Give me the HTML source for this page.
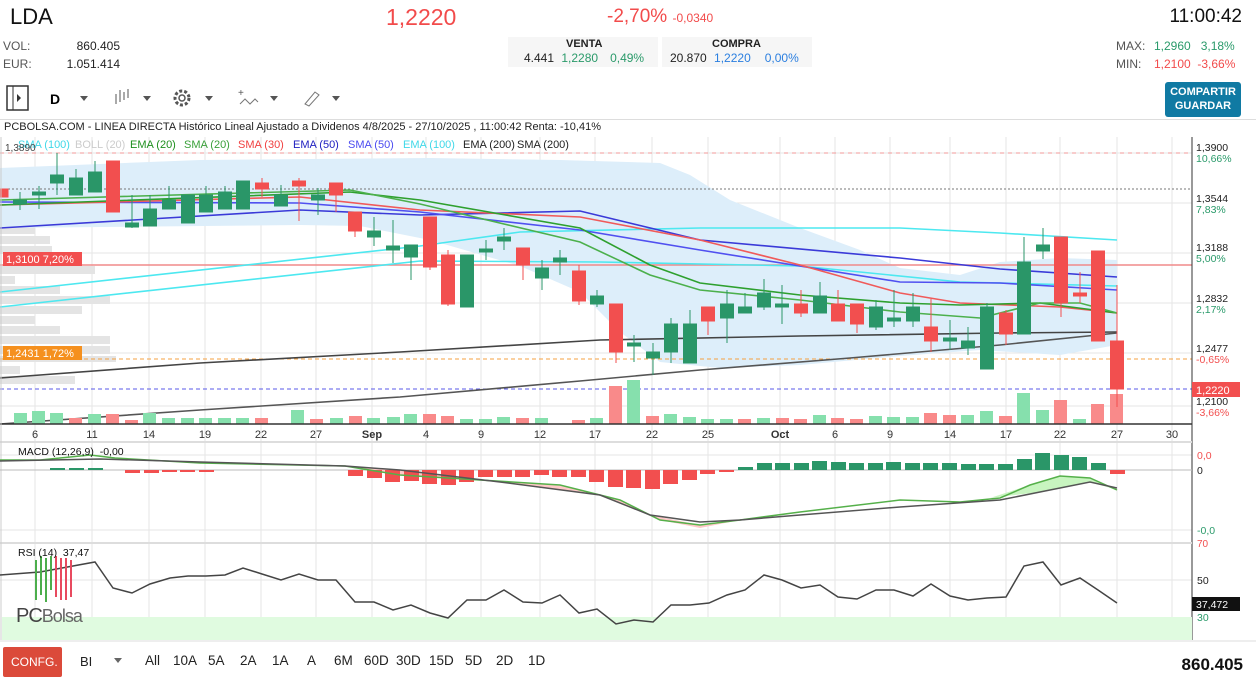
<!DOCTYPE html>
<html><head><meta charset="utf-8">
<style>
body{margin:0;width:1256px;height:683px;overflow:hidden;background:#fff;font-family:"Liberation Sans",sans-serif;position:relative}
.a{position:absolute;white-space:nowrap}
</style></head><body>
<div class="a" style="left:10px;top:4px;font-size:22px;color:#111">LDA</div>
<div class="a" style="left:386px;top:4px;font-size:23px;color:#f24b4b">1,2220</div>
<div class="a" style="left:607px;top:6px;font-size:19px;color:#f24b4b">-2,70% <span style="font-size:12px">-0,0340</span></div>
<div class="a" style="right:14px;top:6px;font-size:19px;color:#111">11:00:42</div>
<div class="a" style="left:3px;top:39px;font-size:12px;color:#555">VOL:</div>
<div class="a" style="left:3px;top:57px;font-size:12px;color:#555">EUR:</div>
<div class="a" style="left:40px;width:80px;text-align:right;top:39px;font-size:12px;color:#222">860.405</div>
<div class="a" style="left:40px;width:80px;text-align:right;top:57px;font-size:12px;color:#222">1.051.414</div>
<div class="a" style="left:508px;top:37px;width:150px;height:30px;background:#f6f6f6"></div>
<div class="a" style="left:662px;top:37px;width:150px;height:30px;background:#f6f6f6"></div>
<div class="a" style="left:566px;top:38px;font-size:11px;font-weight:bold;color:#222">VENTA</div>
<div class="a" style="left:712px;top:38px;font-size:11px;font-weight:bold;color:#222">COMPRA</div>
<div class="a" style="left:524px;top:51px;font-size:12px;color:#222">4.441 <span style="color:#2a9a6a;margin-left:4px">1,2280</span><span style="color:#2a9a6a;margin-left:12px">0,49%</span></div>
<div class="a" style="left:670px;top:51px;font-size:12px;color:#222">20.870 <span style="color:#2b7fe0;margin-left:4px">1,2220</span><span style="color:#2b7fe0;margin-left:14px">0,00%</span></div>
<div class="a" style="left:1116px;top:39px;font-size:12px;color:#555">MAX:</div>
<div class="a" style="left:1116px;top:57px;font-size:12px;color:#555">MIN:</div>
<div class="a" style="left:1154px;top:39px;font-size:12px;color:#2a9a6a">1,2960 &nbsp; 3,18%</div>
<div class="a" style="left:1154px;top:57px;font-size:12px;color:#f24b4b">1,2100 &nbsp;-3,66%</div>
<div class="a" style="left:1165px;top:82px;width:76px;height:35px;background:#107aa3;border-radius:3px;color:#fff;font-size:11px;font-weight:bold;text-align:center;line-height:14px;padding-top:3px;box-sizing:border-box">COMPARTIR<br>GUARDAR</div>
<svg class="a" style="left:0;top:84px" width="360" height="30">
<rect x="7" y="2" width="21" height="24" fill="none" stroke="#333" stroke-width="1.5"/><line x1="13" y1="2" x2="13" y2="26" stroke="#333"/><polygon points="17,10 21,14 17,18" fill="#333"/>
<text x="50" y="20" font-size="14" font-weight="bold" font-family="Liberation Sans">D</text>
<polygon points="80,12 88,12 84,17" fill="#555"/>
<g stroke="#555"><line x1="116" y1="10" x2="116" y2="20"/><line x1="120" y1="6" x2="120" y2="18"/><line x1="124" y1="8" x2="124" y2="16"/><line x1="128" y1="5" x2="128" y2="14"/></g>
<polygon points="143,12 151,12 147,17" fill="#555"/>
<circle cx="182" cy="14" r="7" fill="none" stroke="#555" stroke-width="3" stroke-dasharray="3 2"/><circle cx="182" cy="14" r="3" fill="none" stroke="#555" stroke-width="1.5"/>
<polygon points="205,12 213,12 209,17" fill="#555"/>
<path d="M240 20 L245 15 L250 20 L255 15 L258 18" fill="none" stroke="#777"/><text x="238" y="12" font-size="10" fill="#555">+</text>
<polygon points="270,12 278,12 274,17" fill="#555"/>
<path d="M305 20 L315 8 L319 11 L309 22Z" fill="none" stroke="#777"/>
<polygon points="332,12 340,12 336,17" fill="#555"/>
</svg>
<div class="a" style="left:0;top:119px;width:1256px;height:1px;background:#ddd"></div>
<div class="a" style="left:4px;top:121px;font-size:11px;color:#222">PCBOLSA.COM - LINEA DIRECTA Histórico Lineal Ajustado a Dividenos 4/8/2025 - 27/10/2025 , 11:00:42 Renta: -10,41%</div>

<svg class="a" style="left:0;top:0" width="1256" height="683" font-family="Liberation Sans">
<!-- grid -->
<g stroke="#e6e6e6" stroke-width="1">
<line x1="35" y1="137" x2="35" y2="640"/><line x1="92" y1="137" x2="92" y2="640"/><line x1="149" y1="137" x2="149" y2="640"/><line x1="205" y1="137" x2="205" y2="640"/><line x1="261" y1="137" x2="261" y2="640"/><line x1="316" y1="137" x2="316" y2="640"/><line x1="372" y1="137" x2="372" y2="640"/><line x1="426" y1="137" x2="426" y2="640"/><line x1="481" y1="137" x2="481" y2="640"/><line x1="540" y1="137" x2="540" y2="640"/><line x1="595" y1="137" x2="595" y2="640"/><line x1="652" y1="137" x2="652" y2="640"/><line x1="708" y1="137" x2="708" y2="640"/><line x1="780" y1="137" x2="780" y2="640"/><line x1="835" y1="137" x2="835" y2="640"/><line x1="890" y1="137" x2="890" y2="640"/><line x1="950" y1="137" x2="950" y2="640"/><line x1="1006" y1="137" x2="1006" y2="640"/><line x1="1060" y1="137" x2="1060" y2="640"/><line x1="1117" y1="137" x2="1117" y2="640"/><line x1="1172" y1="137" x2="1172" y2="640"/>
<line x1="0" y1="153" x2="1192" y2="153"/><line x1="0" y1="203" x2="1192" y2="203"/><line x1="0" y1="253" x2="1192" y2="253"/><line x1="0" y1="303" x2="1192" y2="303"/><line x1="0" y1="353" x2="1192" y2="353"/><line x1="0" y1="406" x2="1192" y2="406"/>
<line x1="0" y1="455" x2="1192" y2="455"/><line x1="0" y1="530" x2="1192" y2="530"/><line x1="0" y1="580" x2="1192" y2="580"/>
</g>
<!-- volume profile -->
<g fill="#e4e4e4">
<rect x="0" y="178" width="17" height="8"/><rect x="0" y="186" width="40" height="8"/><rect x="0" y="196" width="60" height="8"/><rect x="0" y="206" width="30" height="8"/><rect x="0" y="216" width="55" height="8"/><rect x="0" y="226" width="35" height="8"/><rect x="0" y="236" width="50" height="8"/><rect x="0" y="246" width="52" height="8"/><rect x="0" y="266" width="95" height="8"/><rect x="0" y="276" width="15" height="8"/><rect x="0" y="286" width="60" height="8"/><rect x="0" y="296" width="110" height="8"/><rect x="0" y="306" width="82" height="8"/><rect x="0" y="316" width="35" height="8"/><rect x="0" y="326" width="60" height="8"/><rect x="0" y="336" width="110" height="8"/><rect x="0" y="346" width="110" height="8"/><rect x="0" y="356" width="116" height="6"/><rect x="0" y="366" width="20" height="8"/><rect x="0" y="376" width="75" height="8"/>
</g>
<!-- boll -->
<path d="M0 168 L200 160 L430 158 L560 160 L660 163 L690 175 L730 200 L800 228 L860 250 L900 268 L960 275 L1000 262 L1060 258 L1117 260 L1117 345 L1060 355 L980 350 L900 356 L800 365 L720 368 L660 362 L620 332 L580 292 L520 266 L430 240 L360 226 L300 225 L0 228Z" fill="#ddeefa"/>
<!-- ref lines -->
<line x1="0" y1="153" x2="1192" y2="153" stroke="#f29a9a" stroke-dasharray="4 4"/>
<line x1="0" y1="189" x2="1192" y2="189" stroke="#777" stroke-dasharray="2 2"/>
<line x1="0" y1="265" x2="1192" y2="265" stroke="#f08a8a" stroke-width="1.5"/>
<line x1="0" y1="359" x2="1192" y2="359" stroke="#f5a040" stroke-dasharray="4 3"/>
<line x1="0" y1="389" x2="1192" y2="389" stroke="#5a5ae8" stroke-dasharray="4 3"/>
<!-- MAs -->
<g fill="none" stroke-width="1.6">
<polyline stroke="#4de8f0" points="0,292 420,246 520,232 700,228 900,228 1000,233 1117,240"/>
<polyline stroke="#4de8f0" points="0,307 420,261 600,262 800,266 960,282 1117,286"/>
<polyline stroke="#3a3ad8" points="0,228 300,210 420,215 580,211 700,240 900,258 1000,269 1117,277"/>
<polyline stroke="#5050f0" points="0,202 300,203 420,212 580,230 700,250 900,282 1000,283 1117,290"/>
<polyline stroke="#f05a5a" points="0,205 300,197 420,210 580,217 700,240 800,265 900,293 960,303 1060,307 1117,313"/>
<polyline stroke="#2ea02e" points="0,205 350,192 420,200 580,228 650,265 700,283 800,295 900,303 960,305 1040,303 1117,313"/>
<polyline stroke="#4cb04c" points="0,200 350,190 420,204 580,242 650,275 700,290 800,300 900,312 980,318 1040,303 1080,303 1117,313"/>
<polyline stroke="#444" points="0,378 200,363 400,352 600,340 800,336 1000,333 1117,332"/>
<polyline stroke="#555" points="0,424 200,410 400,397 580,381 700,370 850,358 1000,345 1117,333"/>
</g>
<!-- volume -->
<g fill="#86e0ad">
<rect x="14" y="413" width="13" height="11"/><rect x="32" y="411" width="13" height="13"/><rect x="50" y="413" width="13" height="11"/><rect x="88" y="414" width="13" height="10"/><rect x="143" y="413" width="13" height="11"/><rect x="162" y="418" width="13" height="6"/><rect x="181" y="418" width="13" height="6"/><rect x="199" y="418" width="13" height="6"/><rect x="218" y="418" width="13" height="6"/><rect x="236" y="418" width="13" height="6"/><rect x="291" y="410" width="13" height="14"/><rect x="330" y="418" width="13" height="6"/><rect x="367" y="418" width="13" height="6"/><rect x="387" y="417" width="13" height="7"/><rect x="404" y="414" width="13" height="10"/><rect x="460" y="419" width="13" height="5"/><rect x="479" y="419" width="13" height="5"/><rect x="497" y="417" width="13" height="7"/><rect x="535" y="418" width="13" height="6"/><rect x="590" y="418" width="13" height="6"/><rect x="627" y="380" width="13" height="44"/><rect x="664" y="414" width="13" height="10"/><rect x="683" y="417" width="13" height="7"/><rect x="701" y="419" width="13" height="5"/><rect x="720" y="419" width="13" height="5"/><rect x="757" y="418" width="13" height="6"/><rect x="813" y="415" width="13" height="9"/><rect x="869" y="416" width="13" height="8"/><rect x="887" y="417" width="13" height="7"/><rect x="906" y="417" width="13" height="7"/><rect x="961" y="415" width="13" height="9"/><rect x="980" y="411" width="13" height="13"/><rect x="1017" y="393" width="13" height="31"/><rect x="1036" y="410" width="13" height="14"/><rect x="1073" y="419" width="13" height="5"/>
</g>
<g fill="#f98a8a">
<rect x="69" y="418" width="13" height="6"/><rect x="106" y="414" width="13" height="10"/><rect x="125" y="420" width="13" height="4"/><rect x="255" y="418" width="13" height="6"/><rect x="310" y="419" width="13" height="5"/><rect x="349" y="416" width="13" height="8"/><rect x="423" y="414" width="13" height="10"/><rect x="441" y="416" width="13" height="8"/><rect x="516" y="418" width="13" height="6"/><rect x="572" y="420" width="13" height="4"/><rect x="609" y="386" width="13" height="38"/><rect x="646" y="416" width="13" height="8"/><rect x="738" y="419" width="13" height="5"/><rect x="776" y="418" width="13" height="6"/><rect x="794" y="419" width="13" height="5"/><rect x="831" y="418" width="13" height="6"/><rect x="850" y="419" width="13" height="5"/><rect x="924" y="413" width="13" height="11"/><rect x="943" y="415" width="13" height="9"/><rect x="999" y="416" width="13" height="8"/><rect x="1054" y="400" width="13" height="24"/><rect x="1091" y="404" width="13" height="20"/><rect x="1110" y="394" width="13" height="30"/>
</g>
<!-- candles -->
<g stroke="#2a9668" fill="#2a9668">
<line x1="20" y1="192" x2="20" y2="210"/><rect x="13.5" y="200" width="13" height="4"/>
<line x1="39" y1="186" x2="39" y2="209"/><rect x="32.5" y="192" width="13" height="3"/>
<line x1="57" y1="153" x2="57" y2="195"/><rect x="50.5" y="175" width="13" height="8"/>
<line x1="76" y1="169" x2="76" y2="195"/><rect x="69.5" y="178" width="13" height="17"/>
<line x1="95" y1="161" x2="95" y2="192"/><rect x="88.5" y="172" width="13" height="20"/>
<line x1="132" y1="195" x2="132" y2="228"/><rect x="125.5" y="223" width="13" height="4"/>
<line x1="150" y1="195" x2="150" y2="226"/><rect x="143.5" y="209" width="13" height="17"/>
<line x1="169" y1="186" x2="169" y2="209"/><rect x="162.5" y="200" width="13" height="9"/>
<rect x="181.5" y="195" width="13" height="28"/>
<line x1="206" y1="186" x2="206" y2="212"/><rect x="199.5" y="195" width="13" height="17"/>
<line x1="225" y1="186" x2="225" y2="209"/><rect x="218.5" y="192" width="13" height="17"/>
<rect x="236.5" y="181" width="13" height="28"/>
<line x1="281" y1="185" x2="281" y2="206"/><rect x="274.5" y="195" width="13" height="11"/>
<line x1="318" y1="188" x2="318" y2="215"/><rect x="311.5" y="195" width="13" height="5"/>
<line x1="374" y1="217" x2="374" y2="246"/><rect x="367.5" y="231" width="13" height="6"/>
<line x1="393" y1="220" x2="393" y2="263"/><rect x="386.5" y="246" width="13" height="4"/>
<line x1="411" y1="245" x2="411" y2="280"/><rect x="404.5" y="245" width="13" height="12"/>
<rect x="460.5" y="255" width="13" height="52"/>
<line x1="486" y1="240" x2="486" y2="260"/><rect x="479.5" y="249" width="13" height="3"/>
<line x1="504" y1="228" x2="504" y2="250"/><rect x="497.5" y="237" width="13" height="4"/>
<line x1="542" y1="260" x2="542" y2="290"/><rect x="535.5" y="268" width="13" height="10"/>
<line x1="560" y1="250" x2="560" y2="275"/><rect x="553.5" y="258" width="13" height="4"/>
<line x1="597" y1="290" x2="597" y2="307"/><rect x="590.5" y="296" width="13" height="8"/>
<line x1="634" y1="335" x2="634" y2="362"/><rect x="627.5" y="343" width="13" height="3"/>
<line x1="653" y1="343" x2="653" y2="375"/><rect x="646.5" y="352" width="13" height="6"/>
<line x1="671" y1="318" x2="671" y2="363"/><rect x="664.5" y="324" width="13" height="28"/>
<line x1="690" y1="310" x2="690" y2="363"/><rect x="683.5" y="324" width="13" height="39"/>
<line x1="727" y1="290" x2="727" y2="343"/><rect x="720.5" y="304" width="13" height="14"/>
<line x1="745" y1="293" x2="745" y2="313"/><rect x="738.5" y="307" width="13" height="6"/>
<line x1="764" y1="279" x2="764" y2="310"/><rect x="757.5" y="293" width="13" height="14"/>
<line x1="782" y1="285" x2="782" y2="324"/><rect x="775.5" y="304" width="13" height="3"/>
<line x1="820" y1="282" x2="820" y2="313"/><rect x="813.5" y="296" width="13" height="17"/>
<line x1="876" y1="300" x2="876" y2="330"/><rect x="869.5" y="307" width="13" height="20"/>
<line x1="894" y1="290" x2="894" y2="327"/><rect x="887.5" y="318" width="13" height="3"/>
<line x1="913" y1="293" x2="913" y2="327"/><rect x="906.5" y="307" width="13" height="14"/>
<line x1="950" y1="320" x2="950" y2="350"/><rect x="943.5" y="338" width="13" height="3"/>
<line x1="968" y1="327" x2="968" y2="355"/><rect x="961.5" y="341" width="13" height="7"/>
<line x1="987" y1="303" x2="987" y2="369"/><rect x="980.5" y="307" width="13" height="62"/>
<line x1="1024" y1="237" x2="1024" y2="334"/><rect x="1017.5" y="262" width="13" height="72"/>
<line x1="1043" y1="228" x2="1043" y2="259"/><rect x="1036.5" y="245" width="13" height="6"/>
</g>
<g stroke="#f24f4f" fill="#f24f4f">
<rect x="0" y="189" width="8" height="8"/>
<rect x="106.5" y="161" width="13" height="51"/>
<line x1="262" y1="178" x2="262" y2="197"/><rect x="255.5" y="183" width="13" height="6"/>
<line x1="299" y1="178" x2="299" y2="221"/><rect x="292.5" y="181" width="13" height="5"/>
<line x1="336" y1="183" x2="336" y2="212"/><rect x="329.5" y="183" width="13" height="12"/>
<line x1="355" y1="212" x2="355" y2="237"/><rect x="348.5" y="212" width="13" height="19"/>
<line x1="430" y1="217" x2="430" y2="270"/><rect x="423.5" y="217" width="13" height="50"/>
<line x1="448" y1="250" x2="448" y2="306"/><rect x="441.5" y="255" width="13" height="49"/>
<line x1="523" y1="248" x2="523" y2="280"/><rect x="516.5" y="248" width="13" height="17"/>
<line x1="579" y1="265" x2="579" y2="305"/><rect x="572.5" y="271" width="13" height="30"/>
<line x1="616" y1="304" x2="616" y2="363"/><rect x="609.5" y="304" width="13" height="48"/>
<line x1="708" y1="307" x2="708" y2="335"/><rect x="701.5" y="307" width="13" height="14"/>
<line x1="801" y1="290" x2="801" y2="317"/><rect x="794.5" y="304" width="13" height="9"/>
<line x1="838" y1="290" x2="838" y2="321"/><rect x="831.5" y="304" width="13" height="17"/>
<line x1="857" y1="304" x2="857" y2="333"/><rect x="850.5" y="304" width="13" height="20"/>
<line x1="931" y1="299" x2="931" y2="352"/><rect x="924.5" y="327" width="13" height="14"/>
<line x1="1006" y1="310" x2="1006" y2="345"/><rect x="999.5" y="313" width="13" height="21"/>
<line x1="1061" y1="237" x2="1061" y2="317"/><rect x="1054.5" y="237" width="13" height="66"/>
<line x1="1080" y1="272" x2="1080" y2="303"/><rect x="1073.5" y="293" width="13" height="3"/>
<rect x="1091.5" y="251" width="13" height="90"/>
<line x1="1117" y1="285" x2="1117" y2="407"/><rect x="1110.5" y="341" width="13" height="48"/>
</g>
<!-- legend -->
<g font-size="11">
<text x="18" y="148" fill="#40d8e8">SMA (100)</text><text x="75" y="148" fill="#ccc">BOLL (20)</text><text x="130" y="148" fill="#1e8f1e">EMA (20)</text><text x="184" y="148" fill="#3aa03a">SMA (20)</text><text x="238" y="148" fill="#f04040">SMA (30)</text><text x="293" y="148" fill="#2020c0">EMA (50)</text><text x="348" y="148" fill="#4a4af0">SMA (50)</text><text x="403" y="148" fill="#40d8e8">EMA (100)</text><text x="463" y="148" fill="#222">EMA (200)</text><text x="517" y="148" fill="#222">SMA (200)</text>
<text x="5" y="151" fill="#444" font-size="10">1,3890</text>
</g>
<!-- left tags -->
<rect x="3" y="252" width="79" height="14" fill="#f24f4f"/><text x="6" y="263" fill="#fff" font-size="11">1,3100  7,20%</text>
<rect x="3" y="346" width="79" height="14" fill="#f5901e"/><text x="6" y="357" fill="#fff" font-size="11">1,2431  1,72%</text>
<!-- axes -->
<line x1="1192" y1="137" x2="1192" y2="640" stroke="#333"/>
<line x1="0" y1="424" x2="1192" y2="424" stroke="#333" stroke-width="1.5"/>
<line x1="0" y1="442" x2="1192" y2="442" stroke="#ddd" stroke-width="2"/>
<line x1="0" y1="543" x2="1192" y2="543" stroke="#ddd" stroke-width="2"/>
<line x1="1" y1="137" x2="1" y2="640" stroke="#ccc"/>
<g font-size="10.5" fill="#222">
<text x="1196" y="151">1,3900</text><text x="1196" y="162" fill="#2a9a6a">10,66%</text>
<text x="1196" y="202">1,3544</text><text x="1196" y="213" fill="#2a9a6a">7,83%</text>
<text x="1196" y="251">1,3188</text><text x="1196" y="262" fill="#2a9a6a">5,00%</text>
<text x="1196" y="302">1,2832</text><text x="1196" y="313" fill="#2a9a6a">2,17%</text>
<text x="1196" y="352">1,2477</text><text x="1196" y="363" fill="#f24f4f">-0,65%</text>
<text x="1196" y="405">1,2100</text><text x="1196" y="416" fill="#f24f4f">-3,66%</text>
</g>
<rect x="1192" y="382" width="48" height="15" fill="#f24f4f"/><text x="1196" y="394" fill="#fff" font-size="11">1,2220</text>
<g font-size="11" fill="#333" text-anchor="middle">
<text x="35" y="438">6</text><text x="92" y="438">11</text><text x="149" y="438">14</text><text x="205" y="438">19</text><text x="261" y="438">22</text><text x="316" y="438">27</text><text x="372" y="438" font-weight="bold">Sep</text><text x="426" y="438">4</text><text x="481" y="438">9</text><text x="540" y="438">12</text><text x="595" y="438">17</text><text x="652" y="438">22</text><text x="708" y="438">25</text><text x="780" y="438" font-weight="bold">Oct</text><text x="835" y="438">6</text><text x="890" y="438">9</text><text x="950" y="438">14</text><text x="1006" y="438">17</text><text x="1060" y="438">22</text><text x="1117" y="438">27</text><text x="1172" y="438">30</text>
</g>
<!-- MACD -->
<line x1="0" y1="470" x2="1192" y2="470" stroke="#bbb"/>
<path d="M345 466 L400 475 L480 480 L560 485 L620 500 L660 520 L700 528 L740 520 L740 520 L700 525 L650 515 L600 495 L500 482 L400 470 L345 466Z" fill="#ffc8c8"/>
<path d="M990 498 L1030 485 L1060 476 L1090 478 L1117 490 L1090 482 L1040 492 L990 498Z" fill="#c8f5c0"/>
<g fill="#f24f4f">
<rect x="125" y="470" width="15" height="3"/><rect x="144" y="470" width="15" height="3"/><rect x="162" y="470" width="15" height="2"/><rect x="180" y="470" width="15" height="2"/><rect x="199" y="470" width="15" height="2"/>
<rect x="348" y="470" width="15" height="6"/><rect x="367" y="470" width="15" height="8"/><rect x="385" y="470" width="15" height="12"/><rect x="404" y="470" width="15" height="11"/><rect x="422" y="470" width="15" height="14"/><rect x="441" y="470" width="15" height="15"/><rect x="459" y="470" width="15" height="12"/><rect x="478" y="470" width="15" height="7"/><rect x="497" y="470" width="15" height="7"/><rect x="515" y="470" width="15" height="7"/><rect x="534" y="470" width="15" height="5"/><rect x="552" y="470" width="15" height="7"/><rect x="571" y="470" width="15" height="7"/><rect x="589" y="470" width="15" height="12"/><rect x="608" y="470" width="15" height="17"/><rect x="626" y="470" width="15" height="18"/><rect x="645" y="470" width="15" height="19"/><rect x="663" y="470" width="15" height="14"/><rect x="682" y="470" width="15" height="10"/><rect x="700" y="470" width="15" height="4"/><rect x="719" y="470" width="15" height="2"/>
<rect x="1110" y="470" width="15" height="4"/>
</g>
<g fill="#2a9668">
<rect x="50" y="468" width="15" height="2"/><rect x="69" y="468" width="15" height="2"/><rect x="88" y="468" width="15" height="2"/>
<rect x="738" y="467" width="15" height="3"/><rect x="757" y="463" width="15" height="7"/><rect x="775" y="463" width="15" height="7"/><rect x="794" y="463" width="15" height="7"/><rect x="812" y="461" width="15" height="9"/><rect x="831" y="462" width="15" height="8"/><rect x="849" y="463" width="15" height="7"/><rect x="868" y="463" width="15" height="7"/><rect x="886" y="462" width="15" height="8"/><rect x="905" y="463" width="15" height="7"/><rect x="923" y="463" width="15" height="7"/><rect x="942" y="463" width="15" height="7"/><rect x="961" y="464" width="15" height="6"/><rect x="979" y="464" width="15" height="6"/><rect x="998" y="464" width="15" height="6"/><rect x="1017" y="459" width="15" height="11"/><rect x="1035" y="453" width="15" height="17"/><rect x="1054" y="455" width="15" height="15"/><rect x="1072" y="457" width="15" height="13"/><rect x="1091" y="463" width="15" height="7"/>
</g>
<polyline fill="none" stroke="#55b04a" stroke-width="1.5" points="0,460 40,460 90,455 115,458 200,463 345,466 400,475 480,480 560,485 620,500 660,520 700,525 740,520 800,512 900,500 960,502 1000,498 1030,485 1060,476 1090,478 1117,490"/>
<polyline fill="none" stroke="#555" stroke-width="1.5" points="0,461 100,459 200,462 345,466 400,470 500,482 600,495 650,515 700,522 740,520 800,515 900,507 1000,500 1040,492 1090,482 1117,488"/>
<text x="18" y="455" font-size="10.5" fill="#111">MACD (12,26,9) &#160;-0,00</text>
<text x="1197" y="459" font-size="10.5" fill="#f24f4f">0,0</text><text x="1197" y="474" font-size="10.5" fill="#222">0</text><text x="1197" y="534" font-size="10.5" fill="#2a9a6a">-0,0</text>
<!-- RSI -->
<rect x="2" y="617" width="1190" height="23" fill="#e0fbe0"/>
<polyline fill="none" stroke="#444" stroke-width="1.5" points="0,575 40,572 95,562 113,588 132,593 150,584 170,578 188,576 206,576 225,575 243,568 262,574 281,580 299,574 318,580 336,580 355,602 374,602 393,610 411,605 430,613 448,618 467,600 486,600 504,590 523,602 542,603 560,595 579,613 597,609 616,624 634,620 653,622 671,605 690,605 709,603 727,595 745,590 764,575 782,580 801,588 820,585 838,597 857,599 876,590 894,590 913,596 931,584 950,596 968,600 987,598 1006,597 1024,566 1043,562 1061,585 1080,578 1098,590 1117,603"/>
<g stroke-width="2"><line x1="36" y1="560" x2="36" y2="600" stroke="#4cae4c"/><line x1="41" y1="556" x2="41" y2="595" stroke="#4cae4c"/><line x1="46" y1="558" x2="46" y2="602" stroke="#4cae4c"/><line x1="51" y1="556" x2="51" y2="590" stroke="#4cae4c"/><line x1="56" y1="556" x2="56" y2="597" stroke="#e84a5f"/><line x1="61" y1="558" x2="61" y2="600" stroke="#e84a5f"/><line x1="66" y1="558" x2="66" y2="600" stroke="#e84a5f"/><line x1="71" y1="560" x2="71" y2="597" stroke="#e84a5f"/></g>
<text x="16" y="622" font-size="20" fill="#444" letter-spacing="-1">PC<tspan font-size="18" fill="#666">Bolsa</tspan></text>
<text x="18" y="556" font-size="10.5" fill="#111">RSI (14) &#160;37,47</text>
<text x="1197" y="547" font-size="10" fill="#f24f4f">70</text><text x="1197" y="584" font-size="10.5" fill="#222">50</text><text x="1197" y="621" font-size="10.5" fill="#2a9a6a">30</text>
<rect x="1192" y="597" width="48" height="14" fill="#111"/><text x="1196" y="608" font-size="10.5" fill="#fff">37,472</text>
<line x1="0" y1="641" x2="1256" y2="641" stroke="#ddd"/>
<!-- bottom -->
<rect x="3" y="647" width="59" height="30" rx="2" fill="#db4a3a"/><text x="11" y="666" font-size="12" fill="#fff">CONFG.</text>
<text x="80" y="666" font-size="13" fill="#222">BI</text><polygon points="114,658 122,658 118,663" fill="#666"/>
<g font-size="13.5" fill="#222"><text x="145" y="665">All</text><text x="173" y="665">10A</text><text x="208" y="665">5A</text><text x="240" y="665">2A</text><text x="272" y="665">1A</text><text x="307" y="665">A</text><text x="334" y="665">6M</text><text x="364" y="665">60D</text><text x="396" y="665">30D</text><text x="429" y="665">15D</text><text x="465" y="665">5D</text><text x="496" y="665">2D</text><text x="528" y="665">1D</text></g>
<text x="1243" y="670" font-size="17" font-weight="bold" fill="#111" text-anchor="end">860.405</text>
</svg>
</body></html>
